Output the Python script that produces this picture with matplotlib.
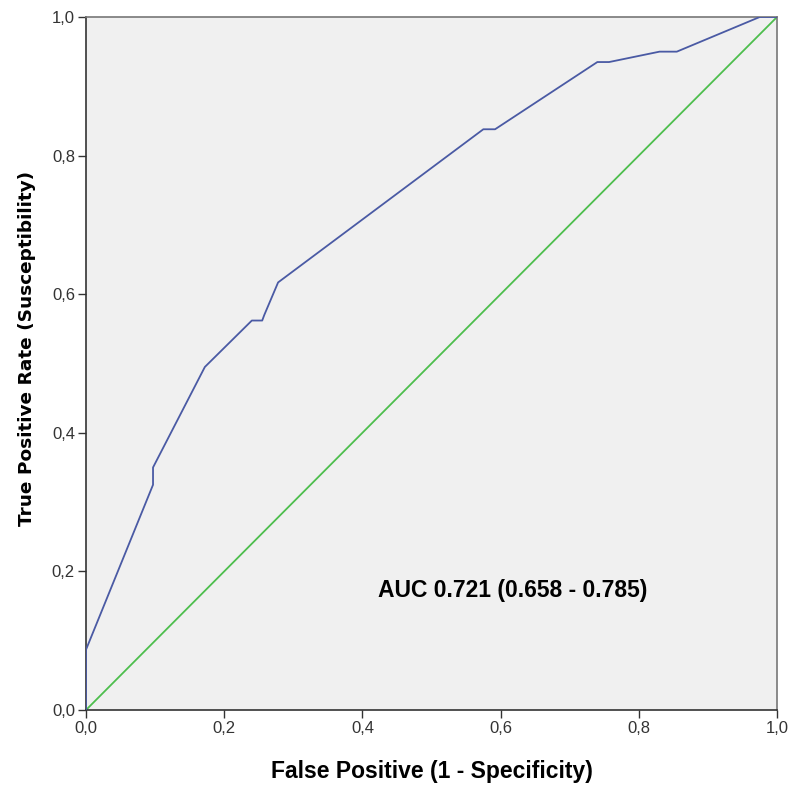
import matplotlib
matplotlib.use("Agg")
import matplotlib.pyplot as plt
from matplotlib.ticker import FuncFormatter

fpr = [0.0, 0.0, 0.097, 0.097, 0.172, 0.240, 0.255, 0.258, 0.278, 0.575, 0.592,
       0.740, 0.757, 0.830, 0.855, 0.975, 1.0]
tpr = [0.0, 0.087, 0.325, 0.350, 0.495, 0.562, 0.562, 0.570, 0.617, 0.838, 0.838,
       0.935, 0.935, 0.950, 0.950, 1.0, 1.0]
ref_line = [0.0, 1.0]
ticks = [0.0, 0.2, 0.4, 0.6, 0.8, 1.0]
auc_text = "AUC 0.721 (0.658 - 0.785)"

plt.rcParams['font.family'] = ['Liberation Sans', 'DejaVu Sans']

fig = plt.figure(figsize=(7.93, 7.88), dpi=100)
ax = fig.add_axes([86/793, 78/788, 691/793, 693/788])
ax.set_facecolor('#F0F0F0')

ax.plot(ref_line, ref_line, color='#4DBE4D', lw=1.3, zorder=2)
ax.plot(fpr, tpr, color='#4A5AA4', lw=1.3, zorder=3)

ax.set_xlim(0, 1)
ax.set_ylim(0, 1)
ax.set_xticks(ticks)
ax.set_yticks(ticks)
fmt = FuncFormatter(lambda v, p: f"{v:.1f}".replace('.', ','))
ax.xaxis.set_major_formatter(fmt)
ax.yaxis.set_major_formatter(fmt)
ax.tick_params(direction='out', length=6, width=1, colors='#333333', labelsize=12, pad=2)

for s in ['left', 'bottom']:
    ax.spines[s].set_color('#333333')
    ax.spines[s].set_linewidth(1.2)
for s in ['top', 'right']:
    ax.spines[s].set_color('#777777')
    ax.spines[s].set_linewidth(1.2)

ax.set_xlabel("False Positive (1 - Specificity)", fontsize=16.5, fontweight='bold', labelpad=17)
ax.set_ylabel("True Positive Rate (Susceptibility)", fontsize=13.3, fontweight='bold',
              family=['DejaVu Sans'])
ax.yaxis.set_label_coords(-0.072, 0.522)

ax.text(0.422, 0.173, auc_text, fontsize=16.5, fontweight='bold', ha='left', va='center')

fig.savefig("out.png", dpi=100)
